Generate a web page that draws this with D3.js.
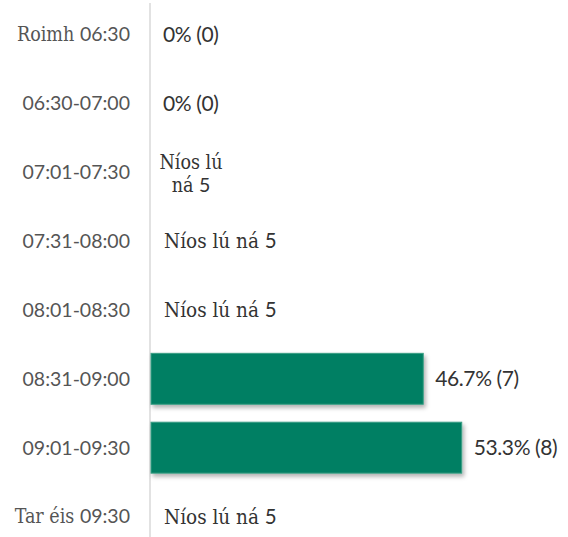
<!DOCTYPE html>
<html>
<head>
<meta charset="utf-8">
<script src="https://cdn.jsdelivr.net/npm/d3@7"></script>
<style>
  html, body { margin: 0; padding: 0; background: #fff; }
  svg { display: block; }
</style>
</head>
<body>
<svg id="chart" width="568" height="537"></svg>
<script>
// ---- data ----
const categories = ["Roimh 06:30", "06:30-07:00", "07:01-07:30", "07:31-08:00",
                    "08:01-08:30", "08:31-09:00", "09:01-09:30", "Tar éis 09:30"];
const percents = [0, 0, null, null, null, 46.7, 53.3, null];   // null = suppressed
const counts   = [0, 0, null, null, null, 7, 8, null];
const suppressedLabel = "Níos lú ná 5";
const xMax = 100;

// ---- layout ----
const W = 568, H = 537;
const axisX = 150;
const svg = d3.select("#chart");

const defs = svg.append("defs");
const f = defs.append("filter").attr("id", "shadow")
  .attr("x", "-10%").attr("y", "-20%").attr("width", "130%").attr("height", "160%");
f.append("feDropShadow").attr("dx", 2).attr("dy", 3).attr("stdDeviation", 2)
  .attr("flood-color", "#000").attr("flood-opacity", 0.3);

const y = d3.scaleBand().domain(categories).range([0, 551])
  .paddingInner(0.26).paddingOuter(0.13);
const x = d3.scaleLinear().domain([0, xMax]).range([axisX + 1, axisX + 1 + 583]);

const SERIF = "'DejaVu Serif Condensed', 'DejaVu Serif', serif";
const SANS = "Lato, 'Open Sans', sans-serif";

// letter runs in slab serif, digits/punctuation in Lato
function mixed(textSel, str) {
  const re = /[A-Za-zÀ-ÿ]+(?:\s+[A-Za-zÀ-ÿ]+)*\s?/g;
  let last = 0, m;
  while ((m = re.exec(str)) !== null) {
    if (m.index > last) textSel.append("tspan").attr("font-family", SANS).text(str.slice(last, m.index));
    textSel.append("tspan").attr("font-family", SERIF).text(m[0]);
    last = m.index + m[0].length;
  }
  if (last < str.length) textSel.append("tspan").attr("font-family", SANS).text(str.slice(last));
}

// category axis (left)
const yAxis = d3.axisLeft(y).tickSize(0).tickPadding(0);
const ag = svg.append("g").attr("transform", `translate(${axisX - 20},0)`).call(yAxis);
ag.select(".domain").remove();
ag.selectAll(".tick text").each(function(d) {
  const t = d3.select(this);
  t.text(null).attr("fill", "#555").attr("font-size", 19.5).attr("dy", "0.35em")
   .attr("font-family", SANS);
  mixed(t, d);
});

// axis line
svg.append("line").attr("x1", axisX).attr("x2", axisX).attr("y1", 3).attr("y2", H)
  .attr("stroke", "#d9d9d9").attr("stroke-width", 1.5);

const rows = categories.map((c, i) => ({ c, p: percents[i], n: counts[i], i }));

// bars
svg.append("g").selectAll("rect")
  .data(rows.filter(d => d.p !== null && d.p > 0))
  .join("rect")
  .attr("x", x(0))
  .attr("y", d => y(d.c))
  .attr("width", d => x(d.p) - x(0))
  .attr("height", y.bandwidth())
  .attr("fill", "#007f63")
  .attr("stroke", "#3c9f85")
  .attr("stroke-width", 1)
  .attr("filter", "url(#shadow)");

// value labels
const lg = svg.append("g");
rows.forEach(d => {
  const cy = y(d.c) + y.bandwidth() / 2;
  if (d.p !== null) {
    lg.append("text").attr("x", x(d.p) + 12).attr("y", cy).attr("dy", "0.35em")
      .attr("font-family", SANS).attr("font-size", 21).attr("fill", "#333")
      .attr("letter-spacing", -0.4)
      .text(`${d.p}% (${d.n})`);
  } else if (d.i === 2) {
    // this row's label wraps onto two centred lines in the original
    const words = suppressedLabel.split(" ");
    const lines = [words.slice(0, 2).join(" "), words.slice(2).join(" ")];
    lines.forEach((ln, k) => {
      const t = lg.append("text").attr("x", 191).attr("y", cy + 1 + (k - 0.5) * 23).attr("dy", "0.35em")
        .attr("text-anchor", "middle").attr("font-size", 19.5).attr("fill", "#333");
      mixed(t, ln);
    });
  } else {
    const t = lg.append("text").attr("x", x(0) + 13).attr("y", cy).attr("dy", "0.35em")
      .attr("font-size", 20.5).attr("fill", "#333");
    mixed(t, suppressedLabel);
  }
});
</script>
</body>
</html>
